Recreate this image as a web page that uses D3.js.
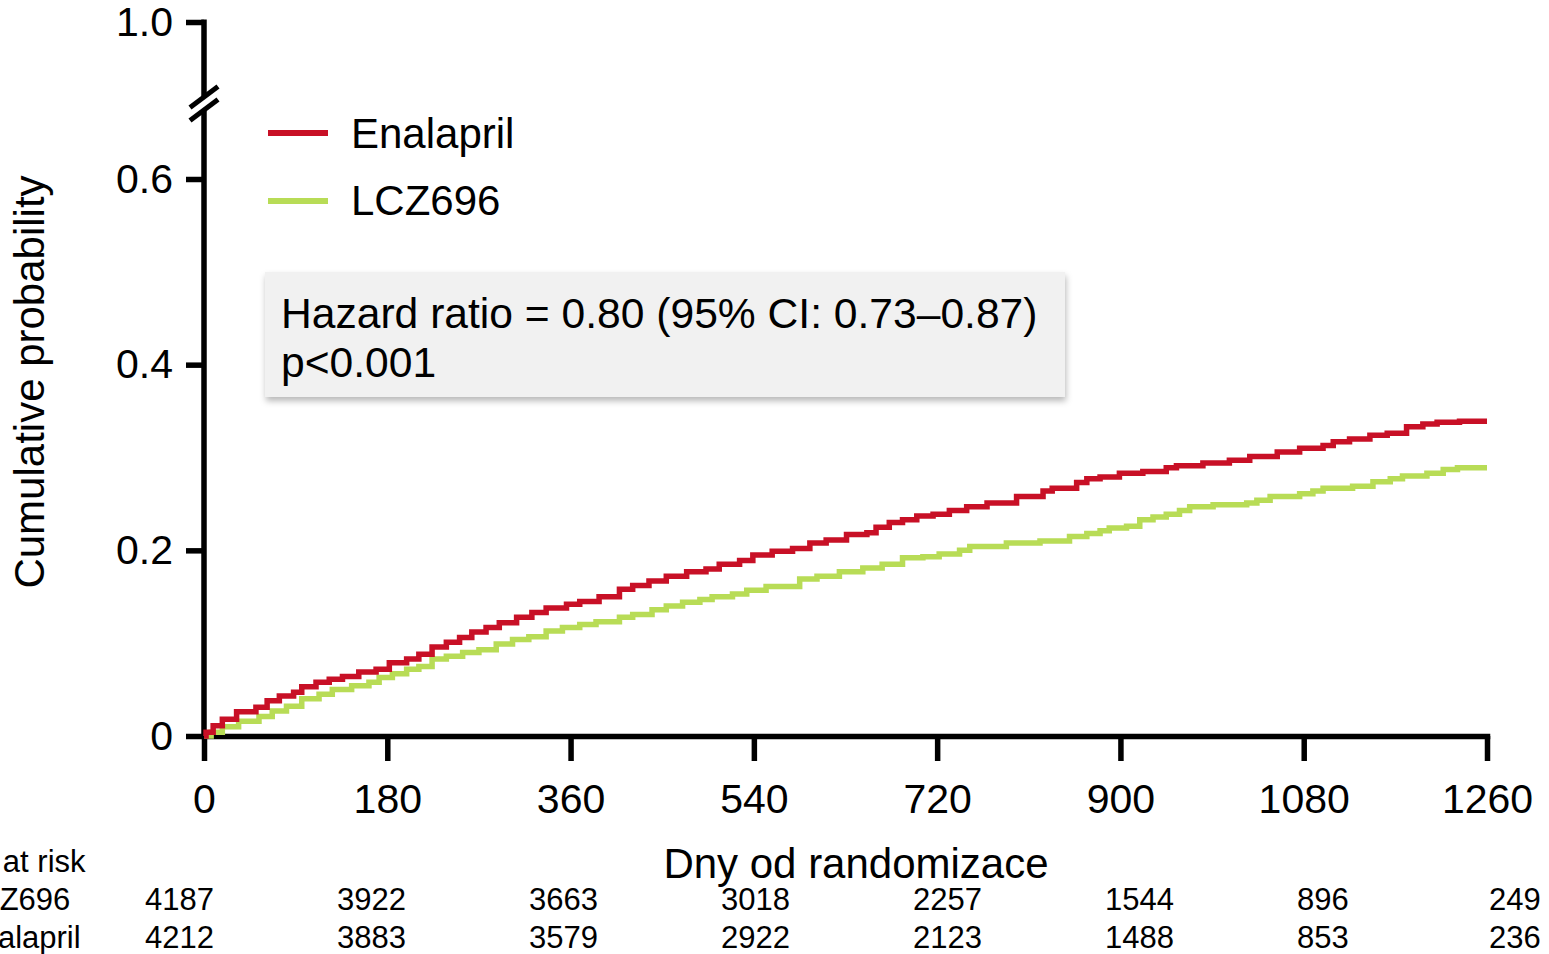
<!DOCTYPE html>
<html>
<head>
<meta charset="utf-8">
<script src="https://cdn.jsdelivr.net/npm/d3@7"></script>
<style>
  body { margin: 0; background: #fff; }
  svg { display: block; font-family: "Liberation Sans", Arial, sans-serif; }
</style>
</head>
<body>
<div id="chart"></div>
<script>
// days since randomisation -> cumulative probability
let enalaprilCurve = [[0,0],[2,0.004],[9,0.011],[18,0.018],[32,0.026],[51,0.031],[62,0.038],[74,0.043],[88,0.047],[96,0.053],
  [110,0.058],[123,0.061],[136,0.064],[152,0.069],[169,0.072],[182,0.079],[199,0.083],[211,0.088],[224,0.096],
  [238,0.101],[251,0.106],[263,0.112],[277,0.117],[290,0.122],[307,0.128],[322,0.133],[336,0.138],[356,0.142],
  [369,0.145],[388,0.150],[408,0.158],[421,0.162],[437,0.167],[454,0.172],[474,0.177],[493,0.180],[506,0.185],
  [526,0.189],[539,0.195],[558,0.199],[578,0.202],[595,0.208],[611,0.211],[631,0.217],[651,0.219],[660,0.225],
  [673,0.230],[686,0.233],[700,0.237],[716,0.239],[732,0.243],[749,0.247],[769,0.251],[798,0.258],[824,0.264],
  [833,0.267],[857,0.273],[867,0.277],[880,0.279],[899,0.283],[922,0.285],[945,0.289],[955,0.291],[981,0.294],
  [1007,0.297],[1027,0.301],[1054,0.306],[1076,0.310],[1099,0.313],[1109,0.317],[1125,0.320],[1145,0.324],
  [1162,0.326],[1181,0.333],[1197,0.336],[1211,0.338],[1233,0.339],[1260,0.339]];

let lczCurve = [[0,0],[7,0.004],[18,0.010],[34,0.016],[54,0.021],[67,0.027],[81,0.032],[96,0.040],[113,0.045],
  [126,0.050],[145,0.054],[162,0.058],[172,0.063],[185,0.067],[199,0.072],[211,0.075],[224,0.083],[238,0.086],
  [254,0.090],[270,0.093],[287,0.099],[303,0.104],[319,0.107],[336,0.113],[352,0.117],[369,0.120],[385,0.123],
  [408,0.128],[421,0.131],[440,0.136],[454,0.140],[470,0.144],[487,0.147],[499,0.150],[519,0.153],[533,0.157],
  [552,0.161],[585,0.169],[602,0.172],[624,0.177],[647,0.181],[666,0.185],[686,0.192],[706,0.193],[722,0.196],
  [742,0.200],[752,0.204],[788,0.208],[821,0.210],[850,0.215],[867,0.218],[880,0.221],[889,0.224],[906,0.226],
  [919,0.233],[932,0.236],[945,0.239],[958,0.243],[968,0.247],[991,0.249],[1024,0.251],[1034,0.254],[1047,0.258],
  [1076,0.261],[1089,0.264],[1099,0.267],[1128,0.269],[1148,0.274],[1165,0.277],[1177,0.280],[1201,0.283],
  [1217,0.287],[1231,0.289],[1260,0.289]];

let xTicks = [0, 180, 360, 540, 720, 900, 1080, 1260];
let yTicks = [0, 0.2, 0.4, 0.6, 1.0];

let seriesNames = ["Enalapril", "LCZ696"];
let seriesColors = ["#c81026", "#b8dc56"];

let riskLabels = ["LCZ696", "Enalapril"];
let riskLCZ = [4187, 3922, 3663, 3018, 2257, 1544, 896, 249];
let riskEnalapril = [4212, 3883, 3579, 2922, 2123, 1488, 853, 236];

let hazardLines = ["Hazard ratio = 0.80 (95% CI: 0.73\u20130.87)", "p<0.001"];

const W = 1549, H = 954;
const x0 = 204, x1 = 1487, yBase = 736;
const breakY = 104;

const svg = d3.select("#chart").append("svg").attr("width", W).attr("height", H);

const x = d3.scaleLinear().domain([0, 1260]).range([x0, x1]);
// lower part 0..0.6 is linear, 1.0 sits above the axis break
const y = d3.scaleLinear().domain([0, 0.6, 1.0]).range([yBase, 179, 22]);

const defs = svg.append("defs");
const shadow = defs.append("filter").attr("id", "shadow")
  .attr("x", "-5%").attr("y", "-10%").attr("width", "110%").attr("height", "130%");
shadow.append("feDropShadow").attr("dx", 1).attr("dy", 4).attr("stdDeviation", 3)
  .attr("flood-color", "#000").attr("flood-opacity", 0.28);

// hazard ratio box
svg.append("rect").attr("x", 265).attr("y", 272).attr("width", 800).attr("height", 125)
  .attr("fill", "#f1f1f1").attr("filter", "url(#shadow)");
svg.selectAll("text.hr").data(hazardLines).join("text").attr("class", "hr")
  .attr("x", 281).attr("y", (d, i) => 328 + i * 49)
  .attr("font-size", 42.6).attr("fill", "#000").text(d => d);

// x axis
const xAxis = svg.append("g").attr("transform", `translate(0,${yBase})`)
  .call(d3.axisBottom(x).tickValues(xTicks).tickSize(25).tickSizeOuter(0).tickPadding(23).tickFormat(d3.format("d")));
xAxis.select(".domain").attr("stroke-width", 5.5).attr("stroke-linecap", "square");
xAxis.selectAll(".tick line").attr("stroke-width", 5.5);
xAxis.selectAll(".tick text").attr("font-size", 41).attr("font-family", "Liberation Sans, Arial, sans-serif").attr("fill", "#000");

// y axis with break
const yAxis = svg.append("g").attr("transform", `translate(${x0},0)`)
  .call(d3.axisLeft(y).tickValues(yTicks).tickSize(18).tickPadding(13)
    .tickFormat(d => d === 0 ? "0" : d.toFixed(1)));
yAxis.select(".domain").remove();
yAxis.selectAll(".tick line").attr("stroke-width", 5.5);
yAxis.selectAll(".tick text").attr("font-size", 41).attr("font-family", "Liberation Sans, Arial, sans-serif").attr("fill", "#000");

svg.append("line").attr("x1", x0).attr("x2", x0).attr("y1", y(1.0) - 2.5).attr("y2", breakY - 6)
  .attr("stroke", "#000").attr("stroke-width", 5.5);
svg.append("line").attr("x1", x0).attr("x2", x0).attr("y1", breakY + 7).attr("y2", yBase)
  .attr("stroke", "#000").attr("stroke-width", 5.5);
[-6.5, 6.5].forEach(off => {
  svg.append("line")
    .attr("x1", x0 - 14).attr("y1", breakY + off + 10)
    .attr("x2", x0 + 14).attr("y2", breakY + off - 11)
    .attr("stroke", "#000").attr("stroke-width", 5);
});

// KM step curves
const line = d3.line().x(d => x(d[0])).y(d => y(d[1])).curve(d3.curveStepAfter);
[lczCurve, enalaprilCurve].forEach((c, i) => {
  svg.append("path").datum(c)
    .attr("fill", "none")
    .attr("stroke", i === 0 ? seriesColors[1] : seriesColors[0])
    .attr("stroke-width", 5.5)
    .attr("d", line);
});

// legend
const legend = svg.append("g");
seriesNames.forEach((name, i) => {
  legend.append("line").attr("x1", 268).attr("x2", 328).attr("y1", 133 + i * 68).attr("y2", 133 + i * 68)
    .attr("stroke", seriesColors[i]).attr("stroke-width", 6);
  legend.append("text").attr("x", 351).attr("y", 148 + i * 67).attr("font-size", 42).attr("fill", "#000").text(name);
});

// axis titles
svg.append("text").attr("x", 856).attr("y", 878).attr("text-anchor", "middle")
  .attr("font-size", 42).attr("fill", "#000").text("Dny od randomizace");
svg.append("text").attr("transform", "translate(44,382) rotate(-90)").attr("text-anchor", "middle")
  .attr("font-size", 42).attr("fill", "#000").text("Cumulative probability");

// numbers at risk
const riskX = d3.scalePoint().domain(xTicks).range([145, 1489]);
svg.append("text").attr("x", -54).attr("y", 872).attr("font-size", 31).attr("fill", "#000").text("No. at risk");
[riskLCZ, riskEnalapril].forEach((row, r) => {
  const yy = 910 + r * 38;
  svg.append("text").attr("x", -40).attr("y", yy).attr("font-size", 31).attr("fill", "#000").text(riskLabels[r]);
  svg.selectAll(null).data(row).join("text")
    .attr("x", (d, i) => riskX(xTicks[i])).attr("y", yy)
    .attr("font-size", 31).attr("fill", "#000").text(d => d);
});
</script>
</body>
</html>
